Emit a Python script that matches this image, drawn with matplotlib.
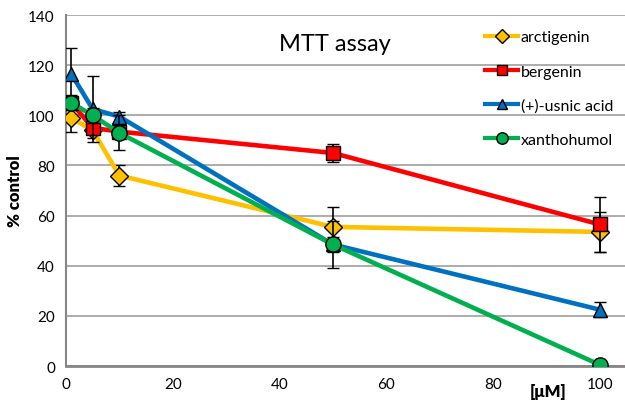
import matplotlib.pyplot as plt
from matplotlib.lines import Line2D

plt.rcParams['font.family'] = ['Lato', 'DejaVu Sans']

# concentrations in uM
conc = [1, 5, 10, 50, 100]

names = ["arctigenin", "bergenin", "(+)-usnic acid", "xanthohumol"]
arct = [99, 94, 76, 55.5, 53.5]
berg = [105, 95, 93.5, 85, 56.5]
usnic = [116.5, 102.5, 99.5, 48.5, 22.5]
xanth = [105, 100, 93, 48.5, 0.5]

arct_err = [5.5, 3, 4, 8, 8]
berg_err = [2, 2, 2, 3.5, 11]
usnic_err = [10.5, 13, 2, 3, 3]
xanth_err = [3, 3, 7, 9.5, 0.5]

colors = ["#FFC000", "#FF0000", "#0070C0", "#00B050"]
markers = ["D", "s", "^", "o"]
msizes = [9, 10, 10, 11]

fig = plt.figure(figsize=(6.25, 4.02), dpi=100)
ax = fig.add_axes([0.1056, 0.087, 0.894, 0.873])

series = [arct, berg, usnic, xanth]
errs = [arct_err, berg_err, usnic_err, xanth_err]
handles = []
for i in range(4):
    ax.errorbar(conc, series[i], yerr=errs[i], color=colors[i], lw=3.3,
                marker=markers[i], ms=msizes[i], mec="black", mew=1,
                ecolor="black", elinewidth=1.2, capsize=4, capthick=1.2,
                zorder=3 + i)
    handles.append(Line2D([], [], color=colors[i], lw=3, marker=markers[i],
                          ms=msizes[i] * 0.75, mec="black", mew=1))

ax.set_xlim(0, 104.7)
ax.set_ylim(0, 140)
ax.set_xticks([0, 20, 40, 60, 80, 100])
ax.set_yticks(range(0, 141, 20))
ax.yaxis.grid(True, color="#A6A6A6", lw=1.3)
ax.set_axisbelow(True)
ax.tick_params(length=0, labelsize=11, pad=8)
for s in ["top", "right"]:
    ax.spines[s].set_visible(False)
ax.spines["left"].set_color("#868686")
ax.spines["left"].set_linewidth(1.5)
ax.spines["bottom"].set_color("#868686")
ax.spines["bottom"].set_linewidth(2)

ax.set_ylabel("% control", fontsize=12, fontweight="heavy")
ax.yaxis.set_label_coords(-0.077, 0.5)
fig.text(0.877, 0.012, "[μM]", fontsize=12, fontweight="heavy", ha="center")
fig.text(0.536, 0.872, "MTT assay", fontsize=17, ha="center")

ax.legend(handles, names, loc="upper left", bbox_to_anchor=(0.738, 0.975),
          frameon=False, fontsize=11.5, labelspacing=1.25, handlelength=2.1,
          handletextpad=0.15, borderaxespad=0)

plt.savefig("out.png", dpi=100)
